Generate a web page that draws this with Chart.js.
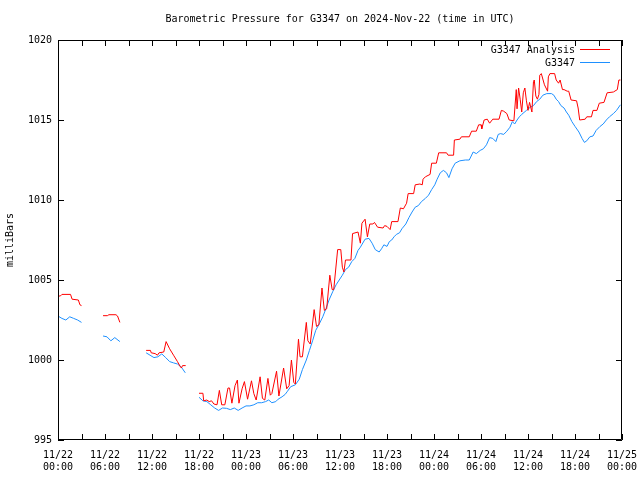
<!DOCTYPE html>
<html><head><meta charset="utf-8">
<script src="https://cdn.jsdelivr.net/npm/chart.js@4/dist/chart.umd.min.js"></script>
<style>html,body{margin:0;padding:0;background:#fff}#wrap{width:640px;height:480px}</style>
</head><body><div id="wrap"><canvas id="c" width="640" height="480"></canvas></div>
<script>
const chartTitle = 'Barometric Pressure for G3347 on 2024-Nov-22 (time in UTC)';
const yAxisTitle = 'milliBars';
const seriesNames = ['G3347 Analysis', 'G3347'];
const seriesColors = ['#ff0000', '#1e90ff'];
const xTickLabels = [['11/22','00:00'],['11/22','06:00'],['11/22','12:00'],['11/22','18:00'],
  ['11/23','00:00'],['11/23','06:00'],['11/23','12:00'],['11/23','18:00'],
  ['11/24','00:00'],['11/24','06:00'],['11/24','12:00'],['11/24','18:00'],['11/25','00:00']];
const yTicks = [995, 1000, 1005, 1010, 1015, 1020];

// [hours since 2024-11-22 00:00 UTC, pressure mb]; null = missing data
const analysisReadings = [
 [0,1004.0],[0.3,1004.0],[0.5,1004.1],[1.6,1004.1],[1.8,1003.8],[2.6,1003.75],[2.8,1003.45],[3.0,1003.4],
 [4.5,null],
 [5.75,1002.77],[6.3,1002.77],[6.5,1002.83],[7.4,1002.83],[7.6,1002.75],[7.9,1002.35],
 [9.5,null],
 [11.25,1000.6],[11.8,1000.6],[11.9,1000.45],[12.4,1000.4],[12.7,1000.3],[12.9,1000.45],[13.5,1000.5],[13.8,1001.15],
 [14.25,1000.7],[14.75,1000.3],[15.25,999.9],[15.6,999.6],[15.75,999.5],[15.9,999.65],[16.3,999.65],
 [17,null],
 [18.0,997.92],[18.5,997.92],[18.6,997.45],[19.0,997.5],[19.3,997.4],[19.6,997.45],[19.9,997.25],[20.3,997.2],
 [20.6,998.1],[20.9,997.2],[21.3,997.2],[21.7,998.25],[21.9,998.25],[22.2,997.3],[22.6,998.4],[22.9,998.75],
 [23.1,997.3],[23.5,998.2],[23.8,998.65],[24.2,997.55],[24.7,998.7],[25.0,997.9],[25.3,997.5],[25.8,998.95],
 [26.1,997.6],[26.4,997.5],[26.8,998.85],[27.1,997.8],[27.3,997.9],[27.9,999.3],[28.2,997.75],[28.8,999.5],
 [29.2,998.2],[29.5,998.4],[29.8,1000.0],[30.1,998.6],[30.3,998.5],[30.7,1001.3],[30.9,1000.2],[31.2,1000.2],
 [31.7,1002.35],[31.9,1001.2],[32.2,1001.0],[32.7,1003.15],[33.0,1002.1],[33.3,1002.2],[33.7,1004.5],[34.0,1003.1],
 [34.3,1003.2],[34.7,1005.3],[35.0,1004.4],[35.2,1004.4],[35.7,1006.9],[36.1,1006.9],[36.3,1005.8],[36.5,1005.5],
 [36.7,1006.25],[37.4,1006.25],[37.6,1007.9],[38.3,1008.0],[38.6,1007.3],[38.8,1008.55],[39.2,1008.8],[39.5,1007.7],
 [39.8,1008.5],[40.2,1008.5],[40.4,1008.6],[40.8,1008.3],[41.5,1008.25],[41.7,1008.4],[42.0,1008.35],[42.4,1008.15],
 [42.6,1008.65],[43.4,1008.65],[43.7,1009.5],[44.1,1009.45],[44.5,1009.8],[44.7,1010.4],[45.4,1010.4],[45.6,1010.95],
 [46.2,1011.0],[46.5,1010.95],[46.6,1011.3],[46.9,1011.45],[47.5,1011.6],[47.7,1012.3],[48.3,1012.3],[48.6,1012.95],
 [49.6,1012.95],[49.8,1012.8],[50.5,1012.8],[50.6,1013.75],[51.3,1013.8],[51.5,1013.95],[52.5,1013.95],[52.8,1014.3],
 [53.4,1014.3],[53.7,1014.7],[54.0,1014.7],[54.1,1014.45],[54.4,1015.0],[54.8,1015.05],[55.1,1014.8],[55.5,1015.05],
 [56.3,1015.05],[56.6,1015.6],[56.9,1015.55],[57.3,1015.4],[57.6,1015.0],[58.2,1014.95],[58.5,1016.9],[58.6,1015.7],
 [58.8,1017.0],[59.0,1016.3],[59.2,1015.5],[59.4,1016.7],[59.6,1017.0],[59.8,1016.2],[60.0,1015.6],[60.2,1016.1],
 [60.5,1015.5],[60.7,1017.4],[60.8,1017.5],[61.0,1016.5],[61.2,1016.3],[61.4,1016.6],[61.5,1017.8],[61.7,1017.9],
 [62.1,1017.2],[62.5,1016.8],[62.6,1017.7],[62.8,1017.9],[63.4,1017.9],[63.6,1017.5],[63.9,1017.3],[64.1,1017.5],
 [64.4,1016.9],[64.6,1016.9],[65.0,1016.8],[65.2,1016.8],[65.5,1016.25],[66.2,1016.2],[66.4,1015.75],[66.6,1015.0],
 [67.3,1015.05],[67.5,1015.2],[68.1,1015.2],[68.3,1015.6],[68.8,1015.6],[69.1,1016.05],[69.7,1016.1],[70.1,1016.7],
 [70.9,1016.75],[71.4,1016.9],[71.6,1017.5],[71.8,1017.5]
];
const stationReadings = [
 [0,1002.75],[0.5,1002.6],[1.0,1002.5],[1.5,1002.7],[2.0,1002.6],[2.5,1002.5],[3.0,1002.35],
 [4.5,null],
 [5.75,1001.5],[6.25,1001.45],[6.75,1001.2],[7.25,1001.4],[7.9,1001.15],
 [9.5,null],
 [11.25,1000.45],[11.75,1000.3],[12.25,1000.15],[12.75,1000.2],[13.25,1000.38],[13.75,1000.15],[14.25,999.9],
 [14.75,999.82],[15.25,999.75],[15.75,999.55],[16.25,999.2],
 [17,null],
 [18.0,997.67],[18.5,997.45],[19.0,997.4],[19.5,997.2],[20.0,997.0],[20.5,996.85],[21.0,997.0],[21.5,996.98],
 [22.0,996.9],[22.5,997.0],[23.0,996.85],[23.5,997.0],[24.0,997.13],[24.5,997.13],[25.0,997.2],[25.5,997.33],
 [26.0,997.33],[26.5,997.4],[26.9,997.5],[27.3,997.33],[27.8,997.4],[28.1,997.55],[28.6,997.7],[29.0,997.85],
 [29.3,998.05],[29.7,998.33],[30.3,998.45],[30.8,998.8],[31.2,999.4],[31.7,1000.0],[32.1,1000.6],[32.5,1001.2],
 [32.9,1001.85],[33.4,1002.3],[33.8,1002.7],[34.2,1003.2],[34.6,1003.75],[35.1,1004.3],[35.5,1004.7],[35.9,1005.0],
 [36.3,1005.3],[36.7,1005.65],[37.1,1005.8],[37.5,1006.15],[37.9,1006.35],[38.3,1006.85],[38.6,1007.05],[39.2,1007.55],
 [39.7,1007.6],[40.1,1007.3],[40.5,1006.9],[41.0,1006.75],[41.3,1006.95],[41.6,1007.2],[42.0,1007.1],[42.3,1007.4],
 [42.6,1007.5],[42.9,1007.7],[43.2,1007.85],[43.6,1007.95],[43.9,1008.2],[44.4,1008.5],[44.8,1008.9],[45.2,1009.25],
 [45.6,1009.55],[46.0,1009.65],[46.4,1009.9],[46.9,1010.1],[47.3,1010.3],[47.7,1010.65],[48.1,1010.95],[48.4,1011.3],
 [48.8,1011.7],[49.2,1011.85],[49.6,1011.7],[49.9,1011.4],[50.3,1011.95],[50.7,1012.3],[51.3,1012.45],[52.0,1012.5],
 [52.5,1012.5],[53.0,1013.0],[53.4,1012.9],[53.9,1013.1],[54.3,1013.2],[54.7,1013.45],[55.1,1013.9],[55.5,1013.85],
 [55.9,1013.65],[56.2,1014.1],[56.5,1014.15],[56.9,1014.1],[57.3,1014.3],[57.7,1014.55],[58.0,1014.9],[58.3,1014.75],
 [58.6,1015.0],[58.9,1015.2],[59.2,1015.35],[59.8,1015.6],[60.3,1015.8],[60.7,1015.9],[61.1,1016.15],[61.5,1016.3],
 [61.9,1016.55],[62.4,1016.65],[63.0,1016.65],[63.3,1016.55],[63.6,1016.3],[63.9,1016.15],[64.2,1015.9],[64.6,1015.75],
 [64.9,1015.5],[65.2,1015.3],[65.6,1014.9],[66.0,1014.6],[66.5,1014.25],[66.9,1013.85],[67.2,1013.6],[67.5,1013.7],
 [67.9,1013.95],[68.3,1014.0],[68.7,1014.35],[69.2,1014.6],[69.6,1014.75],[70.0,1015.0],[70.4,1015.2],[70.9,1015.4],
 [71.3,1015.6],[71.8,1015.95]
];

const FONT = '"DejaVu Sans Mono", "Liberation Mono", monospace';
const toXY = arr => arr.map(([h, p]) => ({x: h, y: p}));

const framePlugin = {
  id: 'frame',
  afterDraw(chart) {
    const {ctx, chartArea: a, scales: {x, y}} = chart;
    ctx.save();
    ctx.strokeStyle = '#000';
    ctx.lineWidth = 1;
    ctx.beginPath();
    ctx.rect(a.left + 0.5, a.top + 0.5, a.right - a.left - 1, a.bottom - a.top - 1);
    for (let h = x.min; h <= x.max; h += 3) {
      const px = Math.round(x.getPixelForValue(h)) + 0.5;
      ctx.moveTo(px, a.bottom); ctx.lineTo(px, a.bottom - 6);
      ctx.moveTo(px, a.top); ctx.lineTo(px, a.top + 6);
    }
    for (const v of yTicks) {
      const py = Math.round(y.getPixelForValue(v)) + 0.5;
      ctx.moveTo(a.left, py); ctx.lineTo(a.left + 6, py);
      ctx.moveTo(a.right, py); ctx.lineTo(a.right - 6, py);
    }
    ctx.stroke();
    ctx.fillStyle = '#000';
    ctx.font = '10px ' + FONT;
    ctx.textAlign = 'center';
    ctx.textBaseline = 'middle';
    ctx.fillText(chartTitle, (a.left + a.right) / 2, 19);
    ctx.textAlign = 'right';
    chart.data.datasets.forEach((ds, i) => {
      const ly = a.top + 10 + i * 13;
      ctx.fillText(ds.label, a.right - 47, ly);
      ctx.strokeStyle = ds.borderColor;
      ctx.beginPath();
      ctx.moveTo(a.right - 42, ly - 0.5);
      ctx.lineTo(a.right - 12, ly - 0.5);
      ctx.stroke();
    });
    ctx.restore();
  }
};

new Chart(document.getElementById('c'), {
  type: 'line',
  data: {
    datasets: [
      {label: seriesNames[0], data: toXY(analysisReadings), borderColor: seriesColors[0], borderWidth: 1, pointRadius: 0, tension: 0, spanGaps: false},
      {label: seriesNames[1], data: toXY(stationReadings), borderColor: seriesColors[1], borderWidth: 1, pointRadius: 0, tension: 0, spanGaps: false}
    ]
  },
  options: {
    responsive: false,
    animation: false,
    devicePixelRatio: 1,
    layout: {padding: {top: 40, right: 18, left: 0, bottom: 0}},
    plugins: {legend: {display: false}, title: {display: false}, tooltip: {enabled: false}},
    scales: {
      x: {
        type: 'linear', min: 0, max: 72,
        grid: {display: false, drawTicks: false},
        border: {display: false},
        afterFit: s => { s.height = 40; s.paddingLeft = 0; s.paddingRight = 0; },
        afterBuildTicks: s => { s.ticks = xTickLabels.map((_, i) => ({value: i * 6})); },
        ticks: {
          autoSkip: false, maxRotation: 0, minRotation: 0, padding: 9,
          color: '#000', font: {family: FONT, size: 10},
          callback: v => xTickLabels[Math.round(v / 6)]
        }
      },
      y: {
        type: 'linear', min: 995, max: 1020,
        grid: {display: false, drawTicks: false},
        border: {display: false},
        afterFit: s => { s.width = 58; s.paddingTop = 0; s.paddingBottom = 0; },
        afterBuildTicks: s => { s.ticks = yTicks.map(v => ({value: v})); },
        ticks: {padding: 6, color: '#000', font: {family: FONT, size: 10}, callback: v => String(v)},
        title: {display: true, text: yAxisTitle, color: '#000', font: {family: FONT, size: 10}, padding: {top: 4, bottom: 0}}
      }
    }
  },
  plugins: [framePlugin]
});
</script>
</body></html>
